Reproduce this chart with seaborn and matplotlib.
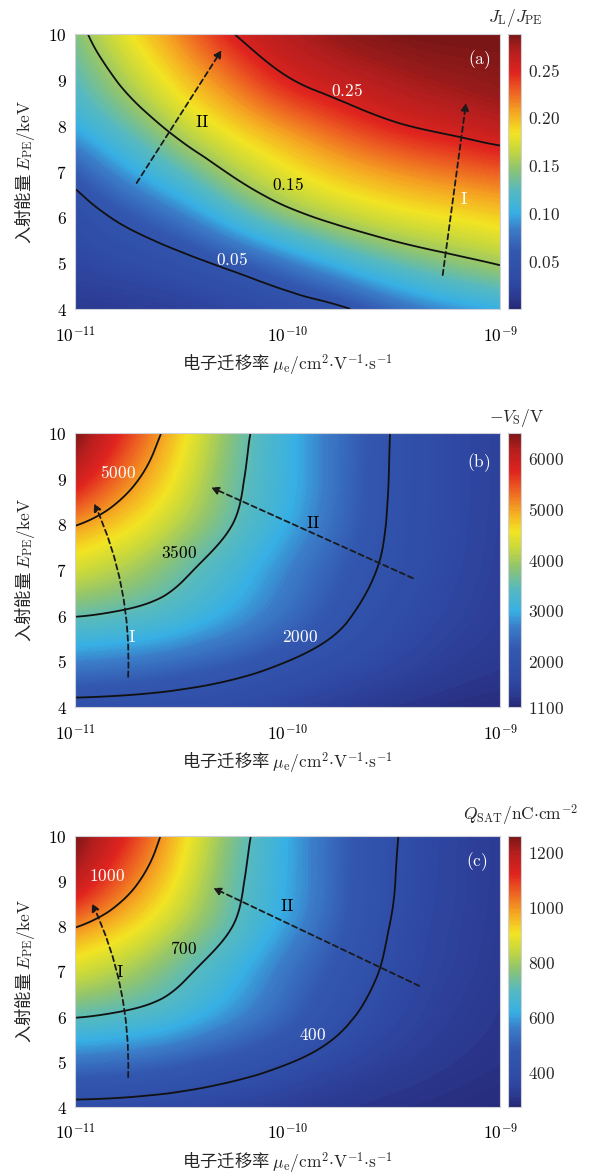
import numpy as np
import matplotlib
matplotlib.use("Agg")
import matplotlib.pyplot as plt
import matplotlib.tri as mtri
from matplotlib.colors import LinearSegmentedColormap
from matplotlib.ticker import FixedLocator, FixedFormatter, NullLocator
import seaborn as sns

# grid: log10 of electron mobility (columns) and primary electron energy in keV (rows)
mobility_log = [-11.0, -10.75, -10.5, -10.25, -10.0, -9.75, -9.5, -9.25, -9.0]
energy_kev = [4, 5, 6, 7, 8, 9, 10]

# (a) J_L / J_PE, rows = energy 4..10
jl_ratio = [
    [0.012, 0.015, 0.019, 0.025, 0.034, 0.046, 0.070, 0.088, 0.100],
    [0.025, 0.032, 0.042, 0.058, 0.080, 0.104, 0.125, 0.140, 0.152],
    [0.036, 0.057, 0.080, 0.111, 0.139, 0.159, 0.173, 0.182, 0.190],
    [0.062, 0.094, 0.124, 0.155, 0.179, 0.197, 0.210, 0.220, 0.228],
    [0.100, 0.130, 0.162, 0.190, 0.213, 0.232, 0.247, 0.256, 0.264],
    [0.124, 0.158, 0.192, 0.222, 0.248, 0.262, 0.271, 0.277, 0.281],
    [0.140, 0.180, 0.215, 0.250, 0.268, 0.279, 0.285, 0.287, 0.287],
]
# (b) -V_S in V
surface_v = [
    [1830, 1800, 1750, 1660, 1530, 1400, 1290, 1210, 1160],
    [2680, 2600, 2450, 2250, 2000, 1760, 1570, 1420, 1320],
    [3520, 3400, 3180, 2850, 2470, 2080, 1760, 1550, 1400],
    [4280, 4000, 3600, 3170, 2700, 2260, 1890, 1620, 1440],
    [5030, 4600, 4050, 3480, 2950, 2410, 1940, 1650, 1460],
    [5900, 5150, 4400, 3620, 3050, 2470, 1960, 1660, 1470],
    [6450, 5560, 4640, 3720, 3070, 2480, 1970, 1660, 1470],
]
# (c) Q_SAT in nC/cm^2
q_sat = [
    [375, 370, 360, 346, 328, 312, 300, 290, 283],
    [536, 520, 490, 450, 405, 362, 333, 312, 298],
    [704, 680, 636, 570, 496, 418, 364, 330, 308],
    [856, 800, 720, 634, 540, 456, 382, 342, 315],
    [1005, 920, 810, 696, 590, 484, 394, 348, 320],
    [1170, 1030, 880, 724, 610, 496, 402, 352, 322],
    [1250, 1105, 925, 745, 614, 500, 406, 354, 323],
]

levels_a = [0.05, 0.15, 0.25]
levels_b = [2000, 3500, 5000]
levels_c = [400, 700, 1000]
ticks_a = [0.05, 0.10, 0.15, 0.20, 0.25]
ticks_b = [1100, 2000, 3000, 4000, 5000, 6000]
ticks_c = [400, 600, 800, 1000, 1200]

sns.set_theme(style="ticks")
plt.rcParams["font.family"] = ["Noto Sans CJK SC", "DejaVu Sans"]
plt.rcParams["mathtext.fontset"] = "cm"

cmap = LinearSegmentedColormap.from_list("soft_jet", [
    (0.0, "#252775"), (0.04, "#2b3990"), (0.10, "#2f4aa5"), (0.21, "#3358b0"),
    (0.29, "#3a7cc8"), (0.35, "#38b0e4"), (0.43, "#55b9c0"), (0.51, "#8fc470"),
    (0.58, "#c8d83c"), (0.64, "#f2e422"), (0.71, "#f5ac22"), (0.78, "#ef6c22"),
    (0.86, "#e0241f"), (0.94, "#b51e1e"), (1.0, "#7a1616")])

FS = 12.5

fig = plt.figure(figsize=(5.92, 11.75), dpi=100)

panels = [
    dict(z=jl_ratio, vmin=0.0, vmax=0.287, levels=levels_a, ticks=ticks_a,
         fmt="%.2f", y0=0.737, h=0.234, title=r"$J_{\mathrm{L}}/J_{\mathrm{PE}}$",
         tpos=(0.87, 0.9847)),
    dict(z=surface_v, vmin=1100, vmax=6490, levels=levels_b, ticks=ticks_b,
         fmt="%d", y0=0.3983, h=0.2332, title=r"$-V_{\mathrm{S}}/\mathrm{V}$",
         tpos=(0.873, 0.644)),
    dict(z=q_sat, vmin=273, vmax=1258, levels=levels_c, ticks=ticks_c,
         fmt="%d", y0=0.0579, h=0.2306,
         title=r"$Q_{\mathrm{SAT}}/\mathrm{nC{\cdot}cm}^{-2}$", tpos=(0.88, 0.3064)),
]

# annotations per panel: (log mobility, energy, text, colour)
notes = [
    [(-10.40, 8.08, "II", "black"), (-9.17, 6.4, "I", "white"), (-9.10, 9.44, "(a)", "white"),
     (-9.72, 8.76, "0.25", "white"), (-10.0, 6.71, "0.15", "black"), (-10.26, 5.07, "0.05", "white")],
    [(-10.80, 9.12, "5000", "white"), (-10.51, 7.37, "3500", "black"), (-9.94, 5.53, "2000", "white"),
     (-10.73, 5.53, "I", "white"), (-9.88, 8.03, "II", "black"), (-9.10, 9.34, "(b)", "white")],
    [(-10.85, 9.11, "1000", "white"), (-10.49, 7.5, "700", "black"), (-9.88, 5.59, "400", "white"),
     (-10.79, 6.99, "I", "black"), (-10.0, 8.45, "II", "black"), (-9.11, 9.44, "(c)", "white")],
]
arrows = [
    [((-10.71, 6.75), (-10.31, 9.65), 0.0), ((-9.27, 4.74), (-9.16, 8.5), 0.0)],
    [((-10.75, 4.66), (-10.91, 8.46), 0.12), ((-9.41, 6.82), (-10.36, 8.81), 0.0)],
    [((-10.75, 4.66), (-10.92, 8.51), 0.12), ((-9.38, 6.68), (-10.35, 8.85), 0.0)],
]

lx, ey = np.meshgrid(mobility_log, energy_kev)
base_tri = mtri.Triangulation(lx.ravel(), ey.ravel())
refiner = mtri.UniformTriRefiner(base_tri)

for p, pn, pa in zip(panels, notes, arrows):
    ax = fig.add_axes([0.1267, p["y0"], 0.718, p["h"]])
    cax = fig.add_axes([0.858, p["y0"], 0.022, p["h"]])

    z = np.asarray(p["z"], dtype=float).ravel()
    rtri, rz = refiner.refine_field(z, subdiv=4)
    tri = mtri.Triangulation(10.0 ** rtri.x, rtri.y, rtri.triangles)
    rz_fill = np.clip(rz, p["vmin"], p["vmax"])

    ax.set_xscale("log")
    fill = ax.tricontourf(tri, rz_fill, levels=np.linspace(p["vmin"], p["vmax"], 160),
                          cmap=cmap, antialiased=False)
    fill.set_edgecolor("face")
    ax.tricontour(tri, rz, levels=p["levels"], colors="#111111", linewidths=1.3)

    ax.set_xlim(1e-11, 1e-9)
    ax.set_ylim(4, 10)
    ax.xaxis.set_major_locator(FixedLocator([1e-11, 1e-10, 1e-9]))
    ax.xaxis.set_major_formatter(FixedFormatter([r"$10^{-11}$", r"$10^{-10}$", r"$10^{-9}$"]))
    ax.xaxis.set_minor_locator(NullLocator())
    ax.set_yticks(energy_kev)
    ax.set_yticklabels([r"$%d$" % e for e in energy_kev])
    ax.tick_params(axis="both", direction="in", length=3, width=0.6,
                   labelsize=FS, colors="#333333", labelcolor="black")
    ax.tick_params(axis="x", pad=12)
    ax.tick_params(axis="y", pad=6)
    for s in ax.spines.values():
        s.set_color("#d0d0d8")
        s.set_linewidth(0.8)

    ax.set_xlabel(r"电子迁移率 $\mu_{\mathrm{e}}/\mathrm{cm}^{2}{\cdot}\mathrm{V}^{-1}{\cdot}\mathrm{s}^{-1}$",
                  fontsize=FS, labelpad=5)
    ax.set_ylabel(r"入射能量 $E_{\mathrm{PE}}/\mathrm{keV}$", fontsize=FS, labelpad=8)

    for x, y, t, c in pn:
        ax.text(10.0 ** x, y, r"$\mathrm{%s}$" % t, color=c, fontsize=FS,
                ha="center", va="center")

    for (x0, y0), (x1, y1), rad in pa:
        ax.annotate("", xy=(10.0 ** x1, y1), xytext=(10.0 ** x0, y0),
                    arrowprops=dict(arrowstyle="-|>", linestyle=(0, (3, 2)), lw=1.3,
                                    color="#1a1a1a", mutation_scale=11,
                                    connectionstyle="arc3,rad=%s" % rad,
                                    shrinkA=0, shrinkB=0))

    cb = fig.colorbar(fill, cax=cax)
    cb.set_ticks(p["ticks"])
    cb.set_ticklabels([r"$%s$" % (p["fmt"] % t) for t in p["ticks"]])
    cb.ax.tick_params(direction="in", length=3, width=0.6, labelsize=FS, pad=5)
    cb.outline.set_edgecolor("#d0d0d8")
    cb.outline.set_linewidth(0.8)

    fig.text(p["tpos"][0], p["tpos"][1], p["title"], fontsize=FS,
             ha="center", va="center")

fig.savefig("out.png", dpi=100)
